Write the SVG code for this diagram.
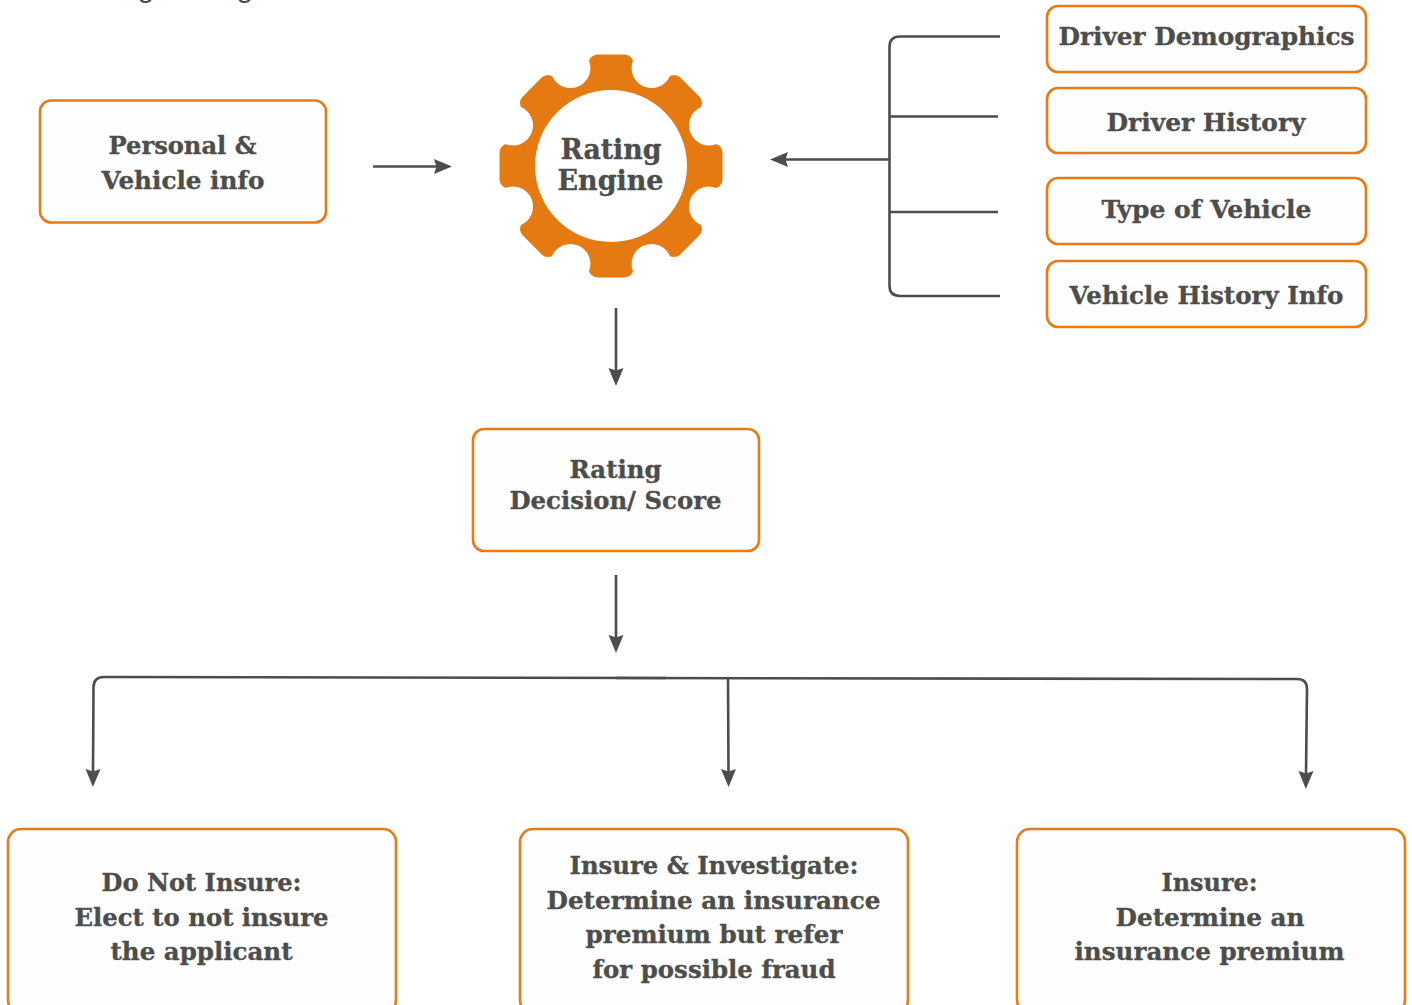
<svg xmlns="http://www.w3.org/2000/svg" xmlns:xlink="http://www.w3.org/1999/xlink" width="1412" height="1005" viewBox="0 0 1412 1005">
<style>
.box{fill:#fefefe;stroke:#e87b14;stroke-width:2.6}
.t{font-family:"DejaVu Serif","Liberation Serif",serif;font-weight:700;font-size:25px;fill:#4d4d4b;stroke:#4d4d4b;stroke-width:.35}
.big{font-size:28px}
.c{fill:none;stroke:#4d4d4b;stroke-width:2.6}
.a{marker-end:url(#ah)}
.gear{fill:#e67a12}
.top{font-family:"Liberation Sans",sans-serif;font-size:30px;fill:#4d4d4b}
</style>
<defs>
<marker id="ah" markerUnits="userSpaceOnUse" markerWidth="20" markerHeight="16" refX="3" refY="8" orient="auto"><path d="M0 .5L18 8L0 15.500L2.500 8z" fill="#4d4d4b"/></marker>
<rect id="tooth" x="-22.500" y="-111.500" width="45" height="30" rx="9" class="gear"/>
<circle id="notch" cx="0" cy="-106" r="20" fill="#fff"/>
</defs>
<rect width="1412" height="1005" fill="#fff"/>
<text class="top" x="137.500" y="-3">g</text>
<text class="top" x="236.500" y="-3">g</text>
<g id="connectors">
<path class="c a" d="M373 166.500H437"/>
<path class="c a" d="M889 159.500H785"/>
<path class="c" d="M1000 36.500H900Q889.500 36.500 889.500 47V285.500Q889.500 296 900 296H1000"/>
<path class="c" d="M889.500 116.500H998M889.500 212H998"/>
<path class="c a" d="M616 308V371"/>
<path class="c a" d="M616 575V638"/>
<path class="c a" d="M666 678L104 677Q93.500 677 93.500 687.500L93 772"/>
<path class="c a" d="M616 678L1297 679Q1307 679 1307 689L1306 774"/>
<path class="c a" d="M728 678L728.500 772"/>
</g>
<g id="personal-vehicle-info"><rect class="box" x="40" y="100.500" width="286" height="122" rx="11"/>
<text class="t" x="108.500" y="154" textLength="148" lengthAdjust="spacingAndGlyphs">Personal &amp;</text>
<text class="t" x="101.500" y="189" textLength="163" lengthAdjust="spacingAndGlyphs">Vehicle info</text></g>
<g id="rating-engine">
<g transform="translate(611 166)">
<circle r="100" class="gear"/>
<use xlink:href="#tooth" href="#tooth"/><use href="#tooth" transform="rotate(45)"/><use href="#tooth" transform="rotate(90)"/><use href="#tooth" transform="rotate(135)"/><use href="#tooth" transform="rotate(180)"/><use href="#tooth" transform="rotate(225)"/><use href="#tooth" transform="rotate(270)"/><use href="#tooth" transform="rotate(315)"/>
<use href="#notch" transform="rotate(22.500)"/><use href="#notch" transform="rotate(67.500)"/><use href="#notch" transform="rotate(112.500)"/><use href="#notch" transform="rotate(157.500)"/><use href="#notch" transform="rotate(202.500)"/><use href="#notch" transform="rotate(247.500)"/><use href="#notch" transform="rotate(292.500)"/><use href="#notch" transform="rotate(337.500)"/>
<circle r="76" fill="#fff"/>
</g>
<text class="t big" x="560.500" y="159" textLength="101" lengthAdjust="spacingAndGlyphs">Rating</text>
<text class="t big" x="557.500" y="190" textLength="106" lengthAdjust="spacingAndGlyphs">Engine</text></g>
<g id="driver-demographics"><rect class="box" x="1047" y="6" width="319" height="66" rx="11"/>
<text class="t" x="1058.500" y="45" textLength="296" lengthAdjust="spacingAndGlyphs">Driver Demographics</text></g>
<g id="driver-history"><rect class="box" x="1047" y="88" width="319" height="65" rx="11"/>
<text class="t" x="1106.500" y="131" textLength="199" lengthAdjust="spacingAndGlyphs">Driver History</text></g>
<g id="type-of-vehicle"><rect class="box" x="1047" y="178" width="319" height="66" rx="11"/>
<text class="t" x="1101.500" y="218" textLength="210" lengthAdjust="spacingAndGlyphs">Type of Vehicle</text></g>
<g id="vehicle-history-info"><rect class="box" x="1047" y="261" width="319" height="66" rx="11"/>
<text class="t" x="1069.500" y="304" textLength="274" lengthAdjust="spacingAndGlyphs">Vehicle History Info</text></g>
<g id="rating-decision"><rect class="box" x="473" y="429" width="286" height="122" rx="11"/>
<text class="t" x="569.500" y="478" textLength="92" lengthAdjust="spacingAndGlyphs">Rating</text>
<text class="t" x="509.500" y="509" textLength="212" lengthAdjust="spacingAndGlyphs">Decision/ Score</text></g>
<g id="do-not-insure"><rect class="box" x="8" y="829" width="388" height="184" rx="13"/>
<text class="t" x="101.500" y="891" textLength="200" lengthAdjust="spacingAndGlyphs">Do Not Insure:</text>
<text class="t" x="74.500" y="926" textLength="254" lengthAdjust="spacingAndGlyphs">Elect to not insure</text>
<text class="t" x="110.500" y="960" textLength="182" lengthAdjust="spacingAndGlyphs">the applicant</text></g>
<g id="insure-investigate"><rect class="box" x="520" y="829" width="388" height="184" rx="13"/>
<text class="t" x="569.500" y="874" textLength="289" lengthAdjust="spacingAndGlyphs">Insure &amp; Investigate:</text>
<text class="t" x="546.500" y="909" textLength="334" lengthAdjust="spacingAndGlyphs">Determine an insurance</text>
<text class="t" x="585.500" y="943" textLength="257" lengthAdjust="spacingAndGlyphs">premium but refer</text>
<text class="t" x="592.500" y="978" textLength="243" lengthAdjust="spacingAndGlyphs">for possible fraud</text></g>
<g id="insure"><rect class="box" x="1017" y="829" width="388" height="184" rx="13"/>
<text class="t" x="1161.500" y="891" textLength="96" lengthAdjust="spacingAndGlyphs">Insure:</text>
<text class="t" x="1115.500" y="926" textLength="189" lengthAdjust="spacingAndGlyphs">Determine an</text>
<text class="t" x="1074.500" y="960" textLength="270" lengthAdjust="spacingAndGlyphs">insurance premium</text></g>
</svg>
